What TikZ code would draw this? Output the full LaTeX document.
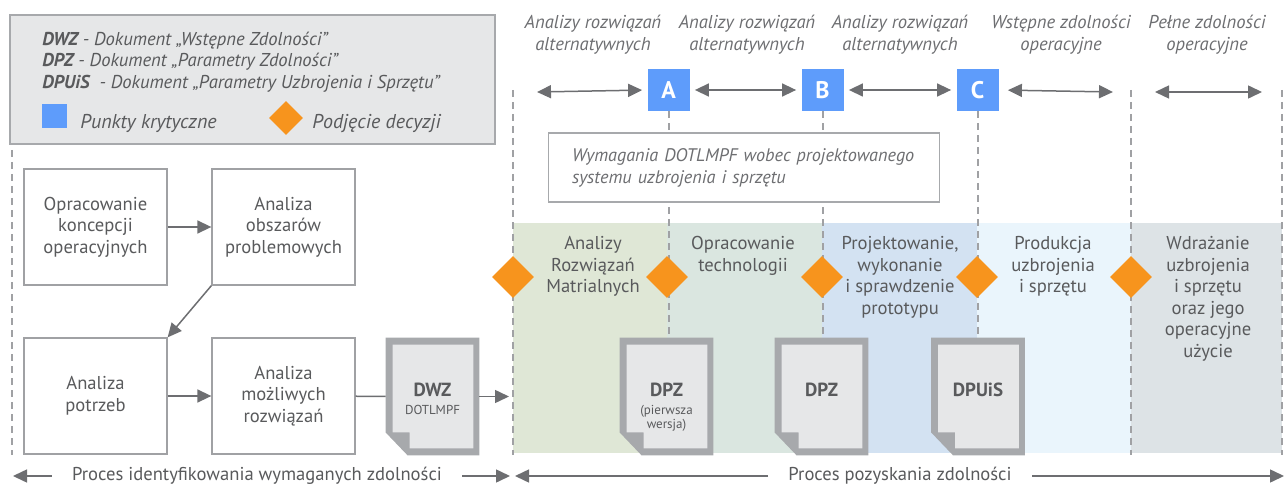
\documentclass[tikz,border=0pt]{standalone}
\usepackage{fontspec}
\setmainfont{PT Sans}
\usetikzlibrary{arrows.meta,shapes.geometric,positioning,calc}

\definecolor{txtgray}{HTML}{595A5C}
\definecolor{lblgray}{HTML}{6D6E71}
\definecolor{linegray}{HTML}{A0A1A4}
\definecolor{arrgray}{HTML}{6D6E71}
\definecolor{legfill}{HTML}{E6E7E8}
\definecolor{docgray}{HTML}{A7A9AC}
\definecolor{docpaper}{HTML}{E6E7E8}
\definecolor{critblue}{HTML}{5E9CFB}
\definecolor{decorange}{HTML}{F7941D}
\definecolor{bandA}{HTML}{DFE7D6}
\definecolor{bandB}{HTML}{DAE6E0}
\definecolor{bandC}{HTML}{D3E2F2}
\definecolor{bandD}{HTML}{EAF5FC}
\definecolor{bandE}{HTML}{DDE3E6}

% document sheet with folded corner
\newcommand\DocShape[4]{%
  \node[docnode] (#1) at (#2) {};
  \fill[docgray] (#1.north west) -- (#1.north east) -- (#1.south east)
    -- ($(#1.south west)+(22,0)$) -- ($(#1.south west)+(0,-23)$) -- cycle;
  \fill[docpaper] ($(#1.north west)+(7,7)$) -- ($(#1.north east)+(-6,7)$)
    -- ($(#1.south east)+(-6,-7)$) -- ($(#1.south west)+(24,-7)$)
    -- ($(#1.south west)+(24,-23)$) -- ($(#1.south west)+(7,-23)$) -- cycle;
  \node[doctitle] (#1t) at ($(#1)+(0,-7)$) {#3};
  \node[docsub, below=4pt of #1t] {#4};
}

\begin{document}
\begin{tikzpicture}[x=0.5pt,y=-0.5pt,
    font=\fontsize{9.3}{10.8}\selectfont, text=txtgray,
    procbox/.style={draw=linegray, line width=0.65pt, fill=white,
      minimum width=71.5pt, minimum height=58pt, align=center, inner sep=2pt},
    arr/.style={draw=arrgray, line width=0.75pt,
      -{Triangle[length=7pt,width=6.5pt]}},
    darr/.style={draw=arrgray, line width=0.75pt,
      {Triangle[length=7pt,width=6.5pt]}-{Triangle[length=7pt,width=6.5pt]}},
    phaseline/.style={draw=linegray, line width=1pt, dash pattern=on 3.5pt off 2.5pt},
    critpt/.style={fill=critblue, text=white, inner sep=0,
      minimum width=21pt, minimum height=21pt,
      font=\fontsize{12}{12}\selectfont\bfseries},
    decpt/.style={diamond, fill=decorange, inner sep=0,
      minimum width=21pt, minimum height=21pt},
    toplabel/.style={font=\fontsize{9.3}{11}\selectfont\itshape, text=lblgray,
      align=center, anchor=north, inner sep=0},
    phasetxt/.style={align=center, anchor=north, inner sep=0},
    docnode/.style={minimum width=46.5pt, minimum height=58.5pt, inner sep=0},
    doctitle/.style={font=\fontsize{9.5}{10}\selectfont\bfseries, inner sep=0},
    docsub/.style={font=\fontsize{6.5}{7}\selectfont, align=center, inner sep=0},
    proctxt/.style={fill=white, inner xsep=10pt, inner ysep=1pt}
  ]
  \useasboundingbox (0,0) rectangle (1288,486);

  % legend
  \draw[fill=legfill, draw=docgray, line width=0.6pt] (10,15) rectangle (495,144);
  \node[anchor=north west, align=left, inner sep=0, font=\fontsize{9.3}{10.6}\selectfont\itshape]
    (legtxt) at (42,32) {\textbf{DWZ} - Dokument „Wstępne Zdolności”\\
      \textbf{DPZ} - Dokument „Parametry Zdolności”\\
      \textbf{DPUiS}\ \ - Dokument „Parametry Uzbrojenia i Sprzętu”};
  \fill[critblue] (42,104) rectangle (67,128);
  \node[anchor=west, inner sep=0, font=\itshape] (legcrit) at (80,123) {Punkty krytyczne};
  \node[decpt, minimum width=17pt, minimum height=17pt] (legdec) at (286,118) {};
  \node[anchor=west, inner sep=0, font=\itshape] (legdectxt) at (312,124) {Podjęcie decyzji};

  % phase bands
  \foreach \xa/\xb/\col in {513/667/bandA, 667/822/bandB, 822/977/bandC,
      977/1131/bandD, 1131/1282/bandE}
    \fill[\col] (\xa,223) rectangle (\xb,453);

  % phase boundaries
  \foreach \x/\ya in {12/150, 513/90, 1131/90, 1282/90}
    \draw[phaseline] (\x,\ya) -- (\x,455);

  % critical points
  \foreach \x/\l in {668.5/A, 822.5/B, 977.5/C} {
    \node[critpt] (crit\l) at (\x,90) {\l};
    \draw[phaseline] (crit\l.south) -- (\x,455);
  }

  % top labels
  \foreach \x in {593,747,900}
    \node[toplabel] at (\x,15) {Analizy rozwiązań\\alternatywnych};
  \node[toplabel] at (1061,15) {Wstępne zdolności\\operacyjne};
  \node[toplabel] at (1207,15) {Pełne zdolności\\operacyjne};

  \coordinate (ta) at (537,92);
  \coordinate (tb) at (1113,92);
  \coordinate (tc) at (1155,92);
  \coordinate (td) at (1262,92);
  \draw[darr, shorten >=2.5pt] (ta) -- (critA.west);
  \draw[darr, shorten >=2.5pt, shorten <=2.5pt] (critA.east) -- (critB.west);
  \draw[darr, shorten >=2.5pt, shorten <=2.5pt] (critB.east) -- (critC.west);
  \draw[darr, shorten <=4.5pt] (critC.east) -- (tb);
  \draw[darr] (tc) -- (td);

  % requirements
  \node[draw=docgray, line width=0.6pt, fill=white, align=left,
    font=\fontsize{9.1}{11}\selectfont\itshape,
    text width=172pt, inner xsep=11.75pt, minimum height=34.5pt, text=lblgray]
    (wymag) at (744,167.5) {Wymagania DOTLMPF wobec projektowanego\\
      systemu uzbrojenia i sprzętu};

  % decisions
  \foreach \x [count=\i] in {513,667,822,977,1131}
    \node[decpt] (dec\i) at (\x,277) {};

  % phase texts
  \node[phasetxt] (fazaA) at (593,236) {Analizy\\Rozwiązań\\Matrialnych};
  \node[phasetxt] (fazaB) at (743,236) {Opracowanie\\technologii};
  \node[phasetxt] (fazaC) at (900,236) {Projektowanie,\\wykonanie\\i sprawdzenie\\prototypu};
  \node[phasetxt] (fazaD) at (1053,236) {Produkcja\\uzbrojenia\\i sprzętu};
  \node[phasetxt] (fazaE) at (1208,236) {Wdrażanie\\uzbrojenia\\i sprzętu\\oraz jego\\operacyjne\\użycie};

  % identification process
  \node[procbox] (koncOp) at (95.5,227) {Opracowanie\\koncepcji\\operacyjnych};
  \node[procbox] (obszProb) at (283.5,227) {Analiza\\obszarów\\problemowych};
  \node[procbox] (potrzeby) at (95.5,396) {Analiza\\potrzeb};
  \node[procbox] (rozwiaz) at (283.5,396) {Analiza\\możliwych\\rozwiązań};
  \draw[arr] (koncOp) -- (obszProb);
  \draw[arr] (obszProb.south west) -- (potrzeby.north east);
  \draw[arr] (potrzeby) -- (rozwiaz);

  % documents
  \DocShape{dwz}{432.5,396.5}{DWZ}{DOTLMPF}
  \DocShape{dpzA}{666.5,396.5}{DPZ}{(pierwsza\\wersja)}
  \DocShape{dpzB}{821.5,396.5}{DPZ}{}
  \DocShape{dpuis}{978,396.5}{DPUiS}{}

  \coordinate (wejscie) at (509,396.5);
  \draw[draw=arrgray, line width=0.75pt] (rozwiaz) -- (dwz);
  \draw[arr] (dwz) -- (wejscie);

  % processes at the bottom
  \node[proctxt] (identTxt) at (257,476) {Proces identyfikowania wymaganych zdolności};
  \node[proctxt] (pozysTxt) at (900,476) {Proces pozyskania zdolności};
  \coordinate (idL) at (13,476);
  \coordinate (idR) at (510,476);
  \coordinate (poL) at (515,476);
  \coordinate (poR) at (1284,476);
  \draw[arr] (identTxt.west) -- (idL);
  \draw[arr] (identTxt.east) -- (idR);
  \draw[arr] (pozysTxt.west) -- (poL);
  \draw[arr] (pozysTxt.east) -- (poR);
\end{tikzpicture}
\end{document}
